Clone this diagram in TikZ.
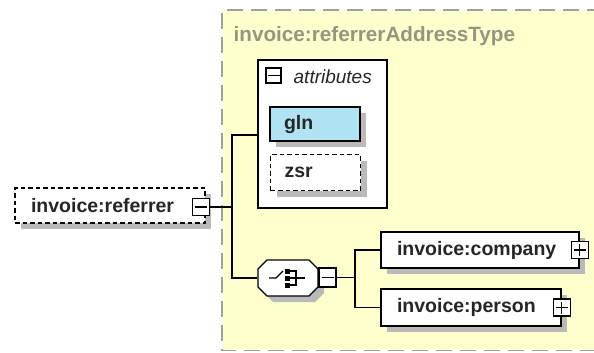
\documentclass[tikz,border=0pt]{standalone}
\usepackage{fontspec}
\setmainfont{Liberation Sans}
\usetikzlibrary{positioning,shadows}
\definecolor{typebg}{RGB}{255,255,206}
\definecolor{typeline}{RGB}{160,160,155}
\definecolor{typetitle}{RGB}{150,150,128}
\definecolor{attrblue}{RGB}{176,228,245}

\begin{document}
\begin{tikzpicture}[x=1pt,y=-1pt,
  line width=1.3pt,
  elem/.style={draw,fill=white,align=left,inner xsep=16pt,inner ysep=0pt,minimum height=36pt,
    font=\fontsize{19.5}{22}\selectfont\bfseries,text=black!85,
    drop shadow={shadow xshift=6pt,shadow yshift=-6pt,fill=black!27,opacity=1}},
  opt/.style={dash pattern=on 4.5pt off 3pt},
  pm/.style={draw,fill=white,minimum size=17pt,inner sep=0pt,line width=1.2pt},
  collapse/.style={pm,path picture={\draw[line width=1.1pt]
    ([xshift=-6pt]path picture bounding box.center) -- ([xshift=6pt]path picture bounding box.center);}},
  expand/.style={pm,path picture={\draw[line width=1.1pt]
    ([xshift=-6pt]path picture bounding box.center) -- ([xshift=6pt]path picture bounding box.center)
    ([yshift=-6pt]path picture bounding box.center) -- ([yshift=6pt]path picture bounding box.center);}},
  choicebox/.style={minimum width=60pt,minimum height=36pt,inner sep=0pt},
  lbl/.style={font=\fontsize{19}{22}\selectfont\itshape,text=black!85,inner sep=0pt},
  typeborder/.style={typeline,line width=1.5pt,dash pattern=on 16pt off 8pt}
]
\useasboundingbox (0,0) rectangle (594,353);
\clip (0,0) rectangle (594,353);

% complex type area
\node[inner sep=0pt,minimum width=380pt,minimum height=339pt,fill=typebg,anchor=north west]
  (reftype) at (222,10) {};
\draw[typeborder] (reftype.north east) -- (reftype.north west) -- (reftype.south west) -- (reftype.south east);
\node[anchor=base west,inner sep=0pt,text=typetitle,font=\fontsize{20.7}{24}\selectfont\bfseries]
  (title) at (233,42) {invoice:referrerAddressType};

% element
\node[elem,opt,text width=158pt,minimum height=35pt] (referrer) at (110,205.5) {invoice:referrer};
\node[collapse] (refpm) at (201,207) {};

% attributes
\node[draw,fill=white,minimum width=129pt,minimum height=148pt] (attr) at (322.5,134) {};
\node[collapse,minimum size=15pt] (attrpm) at (273.5,75.5) {};
\node[lbl,anchor=base west] (attrlbl) at (293,83) {attributes};
\node[elem,fill=attrblue,inner xsep=14pt,text width=62pt,minimum height=34pt] (gln) at (315,124) {gln};
\node[elem,opt,inner xsep=14pt,text width=62pt] (zsr) at (315.5,172.5) {zsr};

% choice
\node[choicebox] (choice) at (288,278) {};
\begin{scope}[shift={(choice.center)}]
  \fill[black!27] (-15,-12) -- (27,-12) -- (36,-3) -- (36,15) -- (27,24) -- (-15,24) -- (-24,15) -- (-24,-3) -- cycle;
  \draw[fill=white] (-21,-18) -- (21,-18) -- (30,-9) -- (30,9) -- (21,18) -- (-21,18) -- (-30,9) -- (-30,-9) -- cycle;
  \draw[line width=1.1pt] (-19,0) -- (-12,0) -- (-5,-7);
  \foreach \y in {-7,0,7}
    \fill (-3.5,\y-2.5) rectangle (1.5,\y+2.5);
  \draw[line width=1.1pt] (1,-7) -- (8,-7) -- (8,7) -- (1,7) (1,0) -- (17,0);
\end{scope}
\node[collapse,minimum width=17pt,minimum height=19pt] (choicepm) at (327.5,277.5) {};

\node[elem,text width=166pt] (company) at (480,250) {invoice:company};
\node[expand] (companypm) at (company.east) {};
\node[elem,text width=148pt,minimum height=37pt] (person) at (471,307.5) {invoice:person};
\node[expand] (personpm) at (person.east) {};

% connectors
\coordinate (bus) at (232,207);
\coordinate (attrin) at (258,135);
\coordinate (split) at (355,277.5);
\draw (refpm.east) -- (bus);
\draw (attrin) -| (bus) |- (choice.west);
\draw (choicepm.east) -- (split);
\draw (company.west) -| (split) |- (person.west);
\end{tikzpicture}
\end{document}
